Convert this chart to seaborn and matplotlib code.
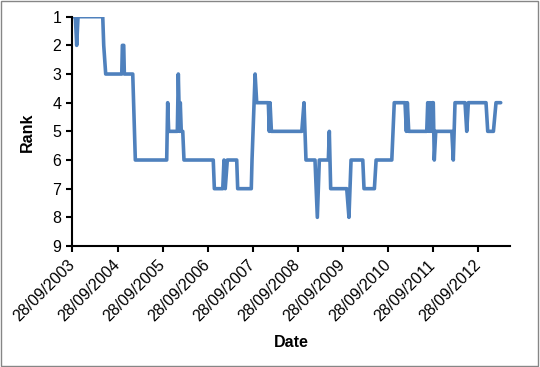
import pandas as pd
import matplotlib
matplotlib.use("Agg")
import matplotlib.pyplot as plt
from matplotlib.patches import Rectangle
import seaborn as sns

# rank history, one entry per vertex of the line
dates = [
    "2003-09-28", "2003-10-22", "2003-11-02", "2003-11-13", "2004-05-31",
    "2004-06-08", "2004-06-24", "2004-11-01", "2004-11-06", "2004-11-17",
    "2004-11-22", "2005-01-29", "2005-02-19", "2005-10-31", "2005-11-08",
    "2005-11-16", "2006-01-25", "2006-02-02", "2006-02-13", "2006-02-18",
    "2006-02-26", "2006-03-10", "2006-03-20", "2006-11-12", "2006-11-21",
    "2007-01-28", "2007-02-07", "2007-02-17", "2007-03-06", "2007-05-21",
    "2007-05-29", "2007-09-16", "2007-09-22", "2007-10-17", "2007-10-30",
    "2008-02-01", "2008-02-09", "2008-02-15", "2008-02-26", "2008-10-29",
    "2008-11-16", "2008-11-24", "2008-12-02", "2009-02-13", "2009-03-04",
    "2009-03-20", "2009-06-01", "2009-06-09", "2009-06-20", "2009-10-28",
    "2009-11-15", "2009-12-02", "2010-03-07", "2010-03-17", "2010-06-09",
    "2010-06-23", "2010-10-28", "2010-11-17", "2011-02-12", "2011-02-23",
    "2011-03-03", "2011-03-14", "2011-08-07", "2011-08-15", "2011-08-26",
    "2011-09-03", "2011-09-13", "2011-09-21", "2011-09-29", "2011-10-07",
    "2011-10-19", "2012-02-26", "2012-03-09", "2012-03-23", "2012-06-12",
    "2012-06-26", "2012-07-09", "2012-11-29", "2012-12-13", "2013-01-28",
    "2013-02-18", "2013-03-28",
]
ranks = [
    1, 1, 2, 1, 1,
    2, 3, 3, 2, 2,
    3, 3, 6, 6, 4,
    5, 5, 3, 5, 4,
    5, 5, 6, 6, 7,
    7, 6, 7, 6, 6,
    7, 7, 6, 3, 4,
    4, 5, 4, 5, 5,
    4, 5, 6, 6, 8,
    6, 6, 5, 7, 7,
    8, 6, 6, 7, 7,
    6, 6, 4, 4, 5,
    4, 5, 5, 4, 5,
    4, 5, 4, 4, 6,
    5, 5, 6, 4, 4,
    5, 4, 4, 5, 5,
    4, 4,
]
tick_dates = ["2003-09-28", "2004-09-28", "2005-09-28", "2006-09-28",
              "2007-09-28", "2008-09-28", "2009-09-28", "2010-09-28",
              "2011-09-28", "2012-09-28"]
rank_ticks = [1, 2, 3, 4, 5, 6, 7, 8, 9]


def main():
    sns.set_theme(style="white")
    plt.rcParams["font.family"] = ["Liberation Sans", "DejaVu Sans"]

    df = pd.DataFrame({"Date": pd.to_datetime(dates), "Rank": ranks})

    fig = plt.figure(figsize=(5.4, 3.67), dpi=100)
    fig.patches.append(Rectangle((0.002, 0.003), 0.995, 0.994,
                                 transform=fig.transFigure, fill=False,
                                 edgecolor="#868686", linewidth=1))
    ax = fig.add_axes([0.134, 0.3297, 0.8106, 0.6248])

    sns.lineplot(data=df, x="Date", y="Rank", ax=ax, color="#4F81BD",
                 linewidth=2.6, solid_joinstyle="round", solid_capstyle="round")

    ticks = pd.to_datetime(tick_dates)
    ax.set_xlim(pd.Timestamp("2003-09-28"), pd.Timestamp("2013-06-12"))
    ax.set_xticks(ticks)
    ax.set_xticklabels([t.strftime("%d/%m/%Y") for t in ticks],
                       rotation=45, ha="right", va="center",
                       rotation_mode="anchor", fontsize=11.5)
    ax.set_ylim(9, 1)
    ax.set_yticks(rank_ticks)
    ax.set_yticklabels([str(r) for r in rank_ticks], fontsize=11.5)

    for side in ["top", "right"]:
        ax.spines[side].set_visible(False)
    for side in ["left", "bottom"]:
        ax.spines[side].set_color("black")
        ax.spines[side].set_linewidth(1.5)
    ax.tick_params(axis="both", which="major", direction="out", length=4,
                   width=1.5, color="black", left=True, bottom=True,
                   labelcolor="black")
    ax.tick_params(axis="x", pad=8)
    ax.tick_params(axis="y", pad=4)
    ax.grid(False)

    ax.set_xlabel("Date", fontsize=11.5, fontweight="bold", color="black")
    ax.set_ylabel("Rank", fontsize=11.5, fontweight="bold", color="black")
    ax.xaxis.label.set_va("center")
    ax.yaxis.label.set_va("center")
    ax.xaxis.set_label_coords(0.5, -0.419)
    ax.yaxis.set_label_coords(-0.102, 0.495)

    fig.savefig("out.png", dpi=100)
    plt.close(fig)


if __name__ == "__main__":
    main()
